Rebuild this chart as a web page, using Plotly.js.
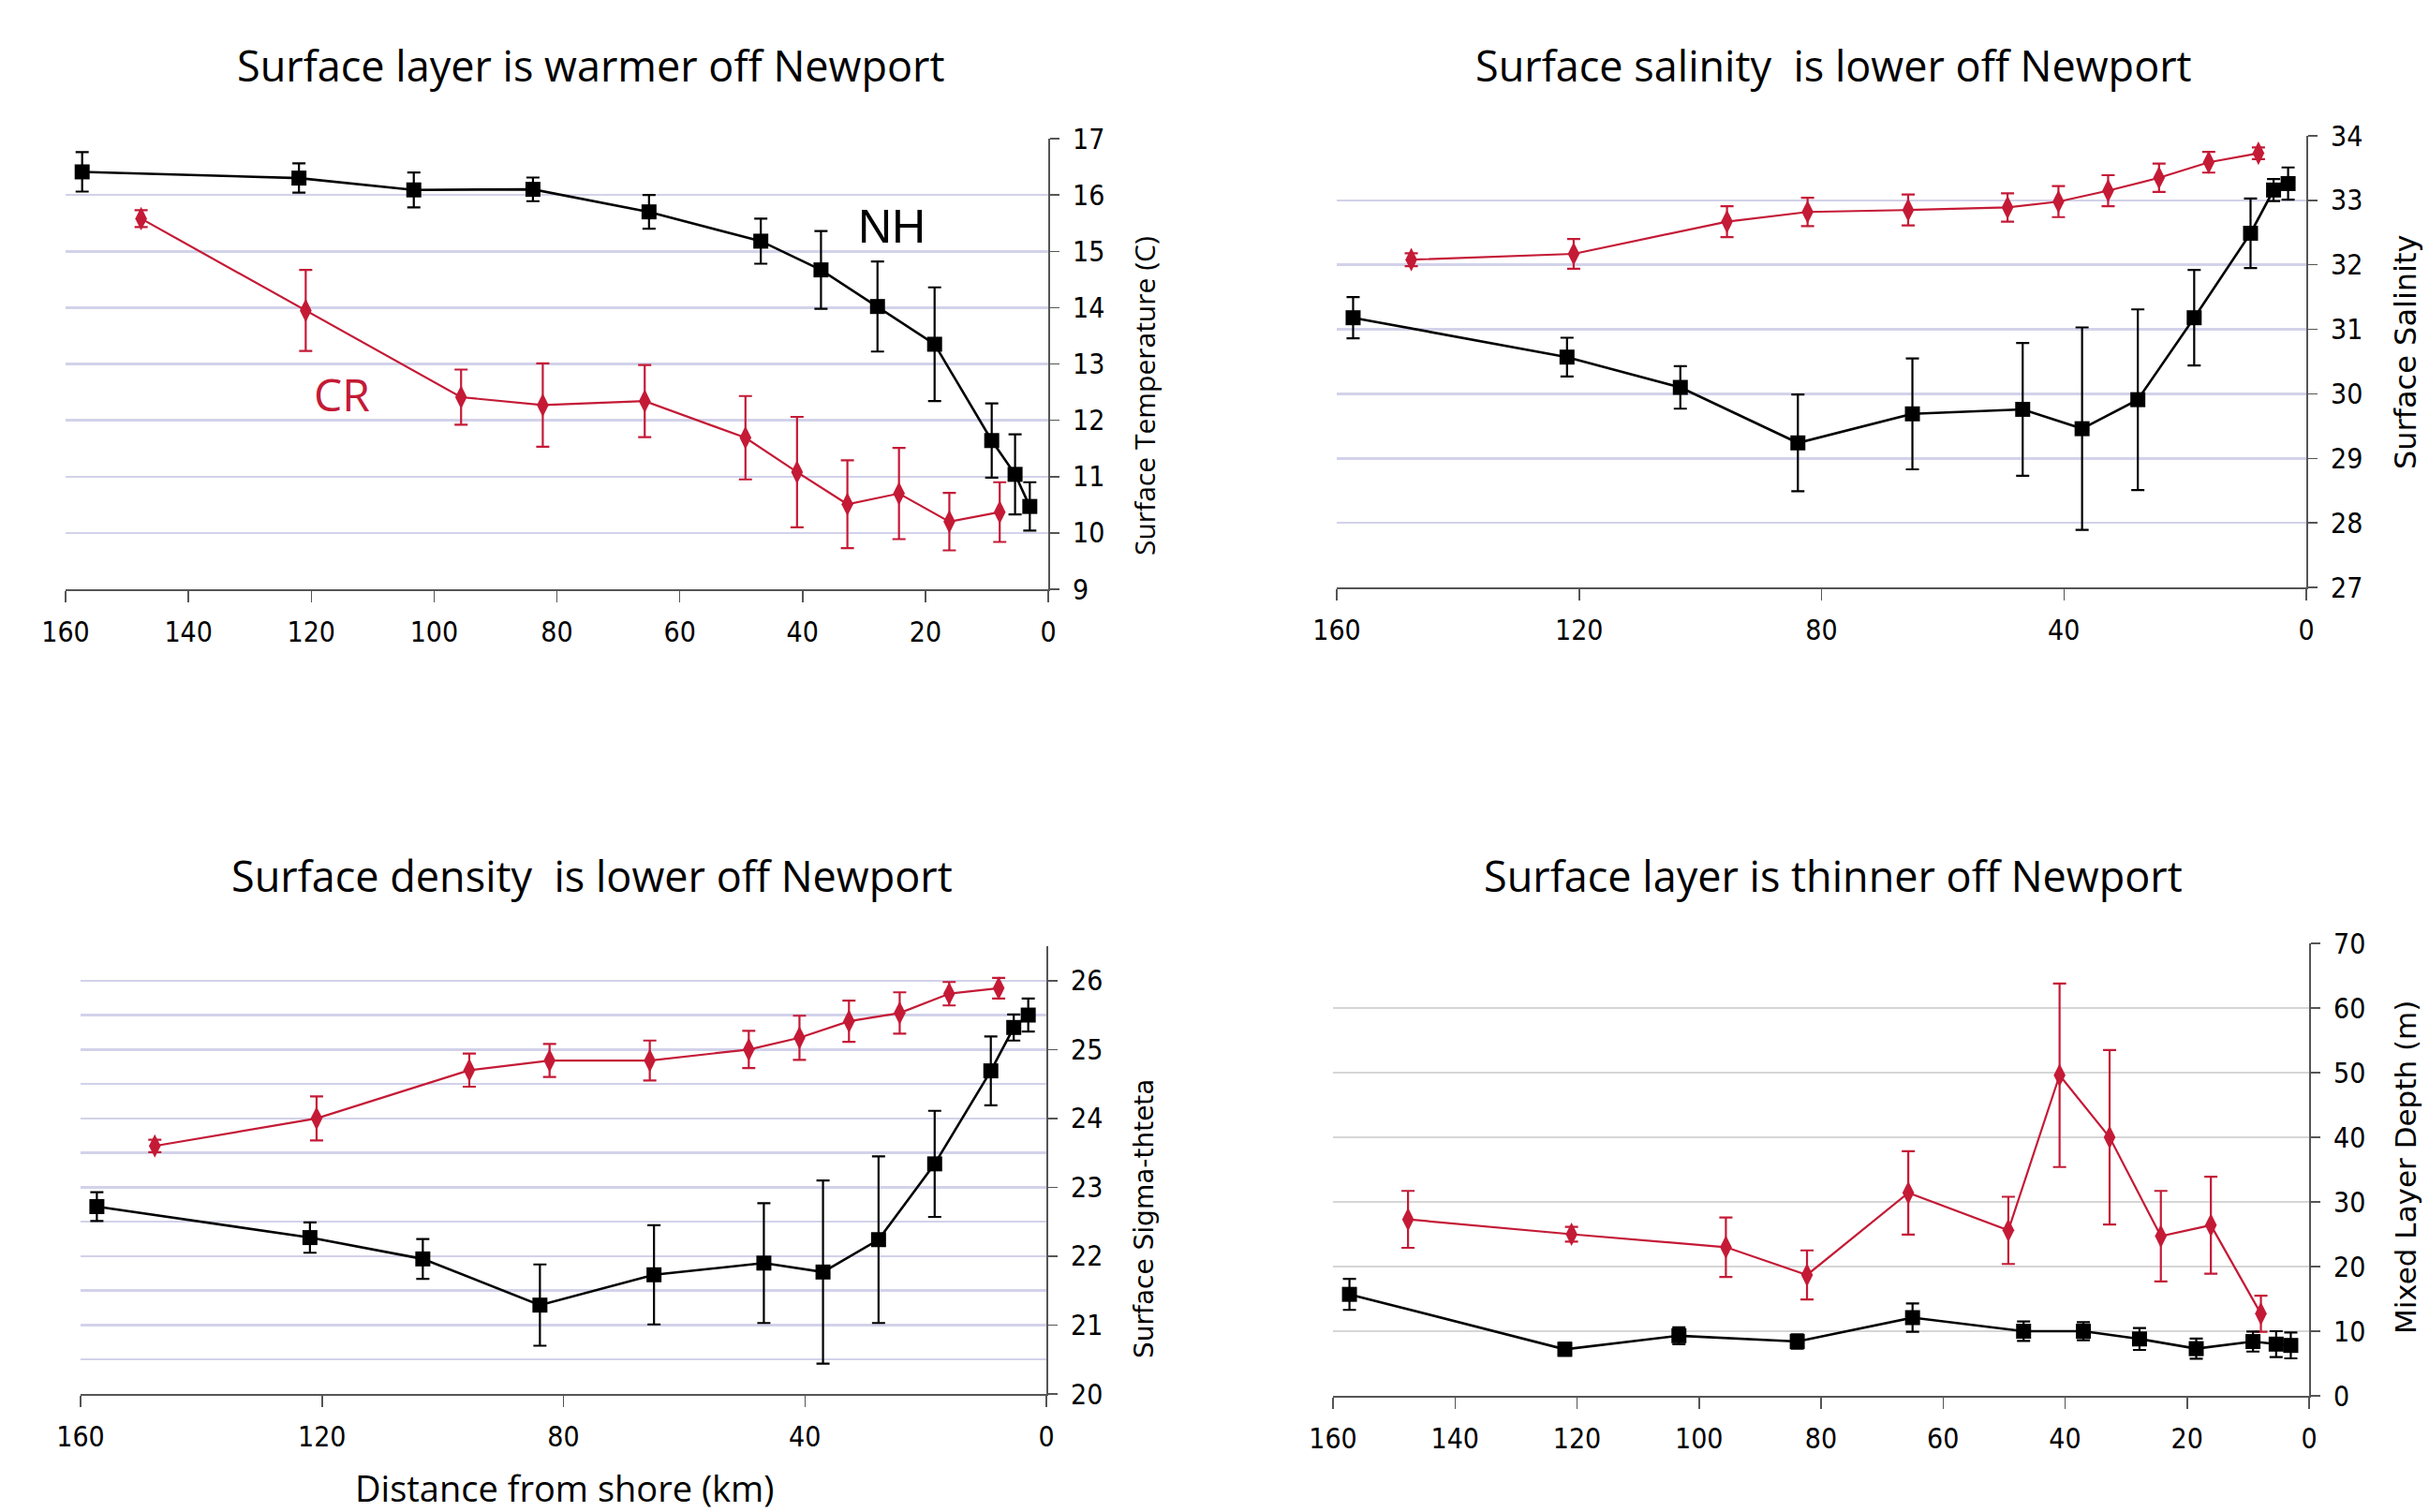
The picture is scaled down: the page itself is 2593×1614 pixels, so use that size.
<!DOCTYPE html>
<html>
<head>
<meta charset="utf-8">
<script src="https://cdn.plot.ly/plotly-3.0.1.min.js"></script>
<style>html,body{margin:0;padding:0;background:#fff;}#chart{width:2593px;height:1614px;}</style>
</head>
<body>
<div id="chart"></div>
<script>
// ---------- DATA ----------
const distNH = [157.3, 122.0, 103.3, 83.9, 65.0, 46.8, 37.0, 27.8, 18.5, 9.2, 5.4, 3.0];
const distCR = [147.7, 120.9, 95.6, 82.3, 65.7, 49.3, 40.9, 32.7, 24.3, 16.1, 7.9];

const tempNH    = [16.41, 16.30, 16.09, 16.10, 15.70, 15.18, 14.67, 14.02, 13.35, 11.64, 11.04, 10.47];
const tempNHerr = [0.35, 0.26, 0.31, 0.21, 0.30, 0.40, 0.69, 0.80, 1.01, 0.66, 0.71, 0.43];
const tempCR    = [15.58, 13.95, 12.41, 12.27, 12.34, 11.69, 11.08, 10.51, 10.70, 10.20, 10.37];
const tempCRerr = [0.15, 0.72, 0.49, 0.74, 0.64, 0.74, 0.98, 0.78, 0.81, 0.51, 0.53];

const salNH    = [31.18, 30.57, 30.10, 29.24, 29.69, 29.76, 29.46, 29.91, 31.18, 32.49, 33.16, 33.26];
const salNHerr = [0.32, 0.30, 0.33, 0.75, 0.86, 1.03, 1.57, 1.40, 0.74, 0.54, 0.17, 0.25];
const salCR    = [32.08, 32.17, 32.67, 32.82, 32.85, 32.89, 32.98, 33.15, 33.35, 33.59, 33.73];
const salCRerr = [0.10, 0.23, 0.24, 0.22, 0.24, 0.22, 0.24, 0.24, 0.22, 0.16, 0.09];

const sigNH    = [22.72, 22.27, 21.96, 21.29, 21.73, 21.90, 21.77, 22.24, 23.34, 24.69, 25.32, 25.50];
const sigNHerr = [0.21, 0.22, 0.29, 0.59, 0.72, 0.87, 1.33, 1.21, 0.77, 0.50, 0.19, 0.24];
const sigCR    = [23.60, 24.00, 24.70, 24.84, 24.84, 25.00, 25.17, 25.41, 25.53, 25.81, 25.89];
const sigCRerr = [0.09, 0.32, 0.24, 0.24, 0.29, 0.27, 0.32, 0.30, 0.30, 0.17, 0.15];

const mldNH    = [15.7, 7.2, 9.3, 8.4, 12.1, 10.0, 10.0, 8.8, 7.3, 8.4, 8.0, 7.8];
const mldNHerr = [2.4, 1.0, 1.3, 1.1, 2.2, 1.5, 1.4, 1.7, 1.55, 1.55, 2.0, 2.0];
const mldCR    = [27.3, 25.0, 23.0, 18.7, 31.4, 25.6, 49.6, 40.0, 24.7, 26.4, 12.7];
const mldCRerr = [4.4, 1.15, 4.6, 3.8, 6.45, 5.2, 14.2, 13.5, 7.0, 7.5, 2.8];

const panelTitles = [
  'Surface layer is warmer off Newport',
  'Surface salinity\u00a0 is lower off Newport',
  'Surface density\u00a0 is lower off Newport',
  'Surface layer is thinner off Newport'
];
const yTitles = ['Surface Temperature (C)', 'Surface Salinity', 'Surface Sigma-thteta', 'Mixed Layer Depth (m)'];
const xTitle = 'Distance from shore (km)';
const seriesNames = ['NH', 'CR'];

// ---------- STYLE / LAYOUT ----------
const W = 2593, H = 1614;
const BLACK = '#000000', RED = '#c41a36';
const LAV = '#d2d2ea', GRAY = '#d6d6d6', AXC = '#555555';
const TITLE_FONT = '"Open Sans", "Noto Sans", sans-serif';
const TICK_FONT = '"Liberation Sans Narrow", "Arial Narrow", "DejaVu Sans Condensed", sans-serif';
const VERD = '"DejaVu Sans", Verdana, sans-serif';

function fx(px){ return px / W; }
function fy(py){ return 1 - py / H; }

// plot-area pixel boxes [left, right, top, bottom]
const boxes = [
  [70, 1119, 148, 629],
  [1427, 2462, 145, 627],
  [86, 1117, 1010, 1488],
  [1423, 2465, 1007, 1490]
];

const datasets = [
  {nh: tempNH, nhe: tempNHerr, cr: tempCR, cre: tempCRerr},
  {nh: salNH, nhe: salNHerr, cr: salCR, cre: salCRerr},
  {nh: sigNH, nhe: sigNHerr, cr: sigCR, cre: sigCRerr},
  {nh: mldNH, nhe: mldNHerr, cr: mldCR, cre: mldCRerr}
];

const yRanges = [[9, 17], [27, 34], [20, 26.5], [0, 70]];
const yDticks = [1, 1, 1, 10];
const xDticks = [20, 40, 40, 20];
const gridCols = [LAV, LAV, LAV, GRAY];

const traces = [];
const layout = {
  width: W, height: H,
  margin: {l: 0, r: 0, t: 0, b: 0},
  paper_bgcolor: '#ffffff', plot_bgcolor: 'rgba(0,0,0,0)',
  showlegend: false,
  annotations: [],
  font: {family: TICK_FONT, color: '#000'}
};

datasets.forEach((d, i) => {
  const n = i + 1;
  const xa = n === 1 ? 'x' : 'x' + n;
  const ya = n === 1 ? 'y' : 'y' + n;
  traces.push({
    type: 'scatter', mode: 'lines+markers', name: seriesNames[1],
    x: distCR, y: d.cr, xaxis: xa, yaxis: ya,
    line: {color: RED, width: 2.2},
    marker: {symbol: 'diamond-tall', size: 18, color: RED},
    error_y: {type: 'data', array: d.cre, visible: true, color: RED, thickness: 2.2, width: 7}
  });
  traces.push({
    type: 'scatter', mode: 'lines+markers', name: seriesNames[0],
    x: distNH, y: d.nh, xaxis: xa, yaxis: ya,
    line: {color: BLACK, width: 2.6},
    marker: {symbol: 'square', size: 16, color: BLACK},
    error_y: {type: 'data', array: d.nhe, visible: true, color: BLACK, thickness: 2.2, width: 7}
  });

  const b = boxes[i];
  const xkey = n === 1 ? 'xaxis' : 'xaxis' + n;
  const ykey = n === 1 ? 'yaxis' : 'yaxis' + n;
  layout[xkey] = {
    domain: [fx(b[0]), fx(b[1])], anchor: ya,
    range: [160, 0], tickmode: 'linear', tick0: 0, dtick: xDticks[i],
    ticks: 'outside', ticklen: 12, tickwidth: 1.5, tickcolor: AXC,
    showline: true, linecolor: AXC, linewidth: 2,
    showgrid: false, zeroline: false,
    ticklabelstandoff: 6,
    tickfont: {family: TICK_FONT, size: 30, color: '#000'}
  };
  const yax = {
    domain: [fy(b[3]), fy(b[2])], anchor: xa, side: 'right',
    range: yRanges[i], tickmode: 'linear', tick0: 0, dtick: yDticks[i],
    ticks: 'outside', ticklen: 10, tickwidth: 1.5, tickcolor: AXC,
    showline: true, linecolor: AXC, linewidth: 2,
    showgrid: true, gridcolor: gridCols[i], gridwidth: 2.5, zeroline: false,
    ticklabelstandoff: 8,
    tickfont: {family: TICK_FONT, size: 30, color: '#000'}
  };
  if (i === 2) {
    yax.minor = {dtick: 0.5, showgrid: true, gridcolor: LAV, gridwidth: 2.5, ticks: ''};
  }
  layout[ykey] = yax;
});

// panel titles
const titlePos = [[630, 70], [1957, 70], [632, 934], [1957, 934]];
titlePos.forEach((p, i) => {
  layout.annotations.push({
    text: panelTitles[i], xref: 'paper', yref: 'paper',
    x: fx(p[0]), y: fy(p[1]), xanchor: 'center', yanchor: 'middle', showarrow: false,
    font: {family: TITLE_FONT, size: 45, color: '#000'}
  });
});

// y-axis titles
const yTitlePos = [[1221, 423], [2568, 376], [1221, 1301], [2568, 1246]];
const yTitleFonts = [
  {family: TITLE_FONT, size: 30, color: '#000'},
  {family: VERD, size: 32, color: '#000'},
  {family: VERD, size: 28, color: '#000'},
  {family: VERD, size: 31, color: '#000'}
];
yTitlePos.forEach((p, i) => {
  layout.annotations.push({
    text: yTitles[i], xref: 'paper', yref: 'paper', textangle: -90,
    x: fx(p[0]), y: fy(p[1]), xanchor: 'center', yanchor: 'middle', showarrow: false,
    font: yTitleFonts[i]
  });
});

// x-axis title (bottom-left panel)
layout.annotations.push({
  text: xTitle, xref: 'paper', yref: 'paper',
  x: fx(602), y: fy(1588), xanchor: 'center', yanchor: 'middle', showarrow: false,
  font: {family: TITLE_FONT, size: 38, color: '#000'}
});

// series labels
layout.annotations.push({
  text: seriesNames[0], xref: 'x', yref: 'y', x: 25.5, y: 15.43,
  xanchor: 'center', yanchor: 'middle', showarrow: false,
  font: {family: '"Liberation Sans", Arial, sans-serif', size: 50, color: BLACK}
});
layout.annotations.push({
  text: seriesNames[1], xref: 'x', yref: 'y', x: 115, y: 12.47,
  xanchor: 'center', yanchor: 'middle', showarrow: false,
  font: {family: TITLE_FONT, size: 48, color: RED}
});

Plotly.newPlot('chart', traces, layout, {staticPlot: true, displayModeBar: false});
</script>
</body>
</html>
